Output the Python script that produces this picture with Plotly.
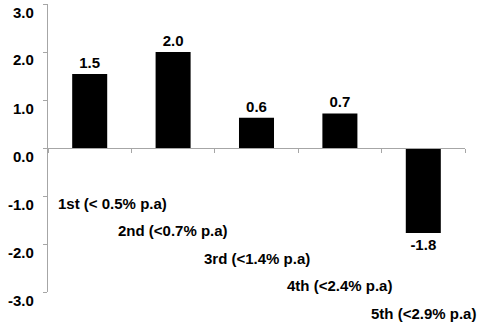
import plotly.graph_objects as go

categories = ["1st (< 0.5% p.a)", "2nd (<0.7% p.a)", "3rd (<1.4% p.a)", "4th (<2.4% p.a)", "5th (<2.9% p.a)"]
values = [1.54, 2.0, 0.63, 0.72, -1.77]
ytick_vals = [3.0, 2.0, 1.0, 0.0, -1.0, -2.0, -3.0]
ytick_text = ["3.0", "2.0", "1.0", "0.0", "-1.0", "-2.0", "-3.0"]
YMIN, YMAX = -3.0, 3.0

FONT = "Liberation Sans, Arial, sans-serif"
FS = 15
GRAY = "#a6a6a6"

def yfrac(v):
    return (v - YMIN) / (YMAX - YMIN)

fig = go.Figure()
fig.add_trace(go.Bar(
    x=categories, y=values,
    marker=dict(color="black", line=dict(width=0)),
    text=[f"{v:.1f}" for v in values],
    textposition="outside",
    textfont=dict(family=FONT, size=FS, color="black", weight="bold"),
    cliponaxis=False,
))

# staggered category labels
for i, c in enumerate(categories):
    fig.add_annotation(
        x=c, y=yfrac(-1.15 - 0.573 * i), xref="x", yref="paper",
        text=f"<b>{c}</b>", showarrow=False,
        xanchor="center", yanchor="middle",
        xshift=23 if i == 0 else 0,
        font=dict(family=FONT, size=FS, color="black"),
    )

# y tick labels (slightly below their ticks, as in the reference)
for v, t in zip(ytick_vals, ytick_text):
    fig.add_annotation(
        x=0, xref="paper", y=yfrac(v), yref="paper", text=f"<b>{t}</b>",
        showarrow=False, xanchor="right", yanchor="middle",
        xshift=-12, yshift=-8,
        font=dict(family=FONT, size=FS, color="black"),
    )

fig.update_layout(
    width=500, height=328,
    margin=dict(l=48, r=35, t=4, b=36),
    paper_bgcolor="white", plot_bgcolor="white",
    showlegend=False,
    bargap=0.58,
    xaxis=dict(
        range=[-0.5, len(categories) - 0.5],
        anchor="free", position=0.5,
        showline=True, linecolor=GRAY, linewidth=1,
        ticks="outside", ticklen=4, tickcolor=GRAY, tickson="boundaries",
        showticklabels=False, showgrid=False, zeroline=False,
    ),
    yaxis=dict(
        range=[YMIN, YMAX], tickvals=ytick_vals, showticklabels=False,
        showline=True, linecolor=GRAY, linewidth=1,
        ticks="outside", ticklen=4, tickcolor=GRAY,
        showgrid=False, zeroline=False,
    ),
)

fig.write_html("out.html")
